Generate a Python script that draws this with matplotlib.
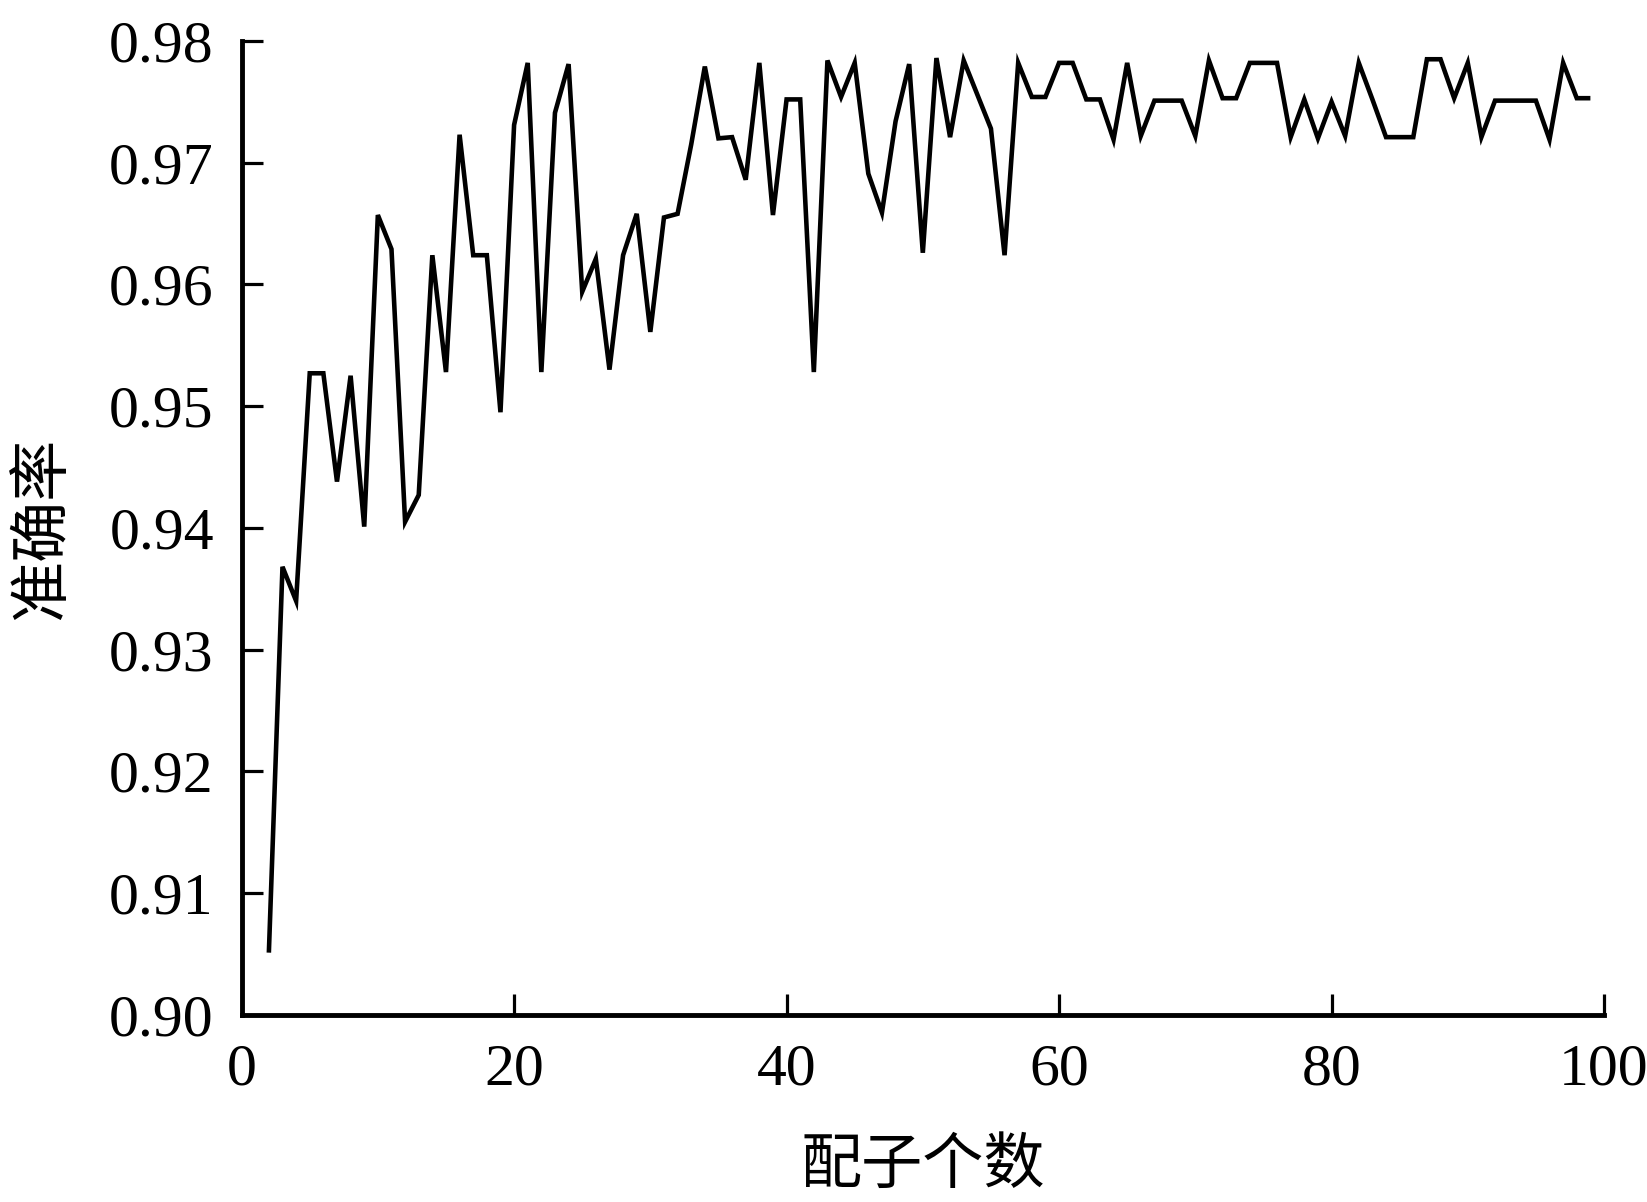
import matplotlib
matplotlib.use("Agg")
import matplotlib.pyplot as plt
import numpy as np

# number of gametes (x) and accuracy (y)
n_gametes = list(range(2, 100))
accuracy = [
    0.9051, 0.9368, 0.9340, 0.9527, 0.9527, 0.9438, 0.9525, 0.9401, 0.9657,  # 2-10
    0.9629, 0.9405, 0.9427, 0.9624, 0.9528, 0.9723, 0.9624, 0.9624, 0.9495, 0.9731,  # 11-20
    0.9782, 0.9528, 0.9741, 0.9781, 0.9594, 0.9621, 0.9530, 0.9624, 0.9658, 0.9561,  # 21-30
    0.9655, 0.9658, 0.9715, 0.9779, 0.9720, 0.9721, 0.9686, 0.9782, 0.9657, 0.9752,  # 31-40
    0.9752, 0.9528, 0.9784, 0.9754, 0.9782, 0.9691, 0.9659, 0.9734, 0.9781, 0.9626,  # 41-50
    0.9786, 0.9721, 0.9784, 0.9756, 0.9728, 0.9624, 0.9782, 0.9754, 0.9754, 0.9782,  # 51-60
    0.9782, 0.9752, 0.9752, 0.9719, 0.9782, 0.9722, 0.9751, 0.9751, 0.9751, 0.9722,  # 61-70
    0.9784, 0.9753, 0.9753, 0.9782, 0.9782, 0.9782, 0.9721, 0.9752, 0.9720, 0.9750,  # 71-80
    0.9722, 0.9782, 0.9752, 0.9721, 0.9721, 0.9721, 0.9785, 0.9785, 0.9753, 0.9782,  # 81-90
    0.9721, 0.9751, 0.9751, 0.9751, 0.9751, 0.9719, 0.9782, 0.9753, 0.9753,          # 91-99
]

x_ticks = [0, 20, 40, 60, 80, 100]
y_ticks = [0.90, 0.91, 0.92, 0.93, 0.94, 0.95, 0.96, 0.97, 0.98]
x_label = "配子个数"
y_label = "准确率"

serif = ["Liberation Serif", "DejaVu Serif"]
cjk = ["Noto Sans CJK SC", "DejaVu Sans"]

fig = plt.figure(figsize=(16.47, 12.02), dpi=100)
ax = fig.add_axes([0.1467, 0.1558, 0.8272, 0.8101])

ax.plot(n_gametes, accuracy, color="black", linewidth=3.3,
        solid_joinstyle="miter", solid_capstyle="butt")

ax.set_xlim(0, 100)
ax.set_ylim(0.90, 0.98)
ax.set_xticks(x_ticks)
ax.set_yticks(y_ticks)
ax.set_xticklabels([str(t) for t in x_ticks], fontfamily=serif, fontsize=43)
ax.set_yticklabels([f"{t:.2f}" for t in y_ticks], fontfamily=serif, fontsize=43)

for side in ["top", "right"]:
    ax.spines[side].set_visible(False)
for side in ["left", "bottom"]:
    ax.spines[side].set_linewidth(3.5)

ax.tick_params(axis="both", direction="in", length=15, width=2.3)
ax.tick_params(axis="y", pad=20)
ax.tick_params(axis="x", pad=21)

ax.set_xlabel(x_label, fontfamily=cjk, fontsize=44, va="center", fontweight="medium")
ax.xaxis.set_label_coords(0.5, -0.155)
ax.set_ylabel(y_label, fontfamily=cjk, fontsize=44, va="center", fontweight="medium")
ax.yaxis.set_label_coords(-0.1465, 0.5)

fig.savefig("out.png", dpi=100, facecolor="white")
